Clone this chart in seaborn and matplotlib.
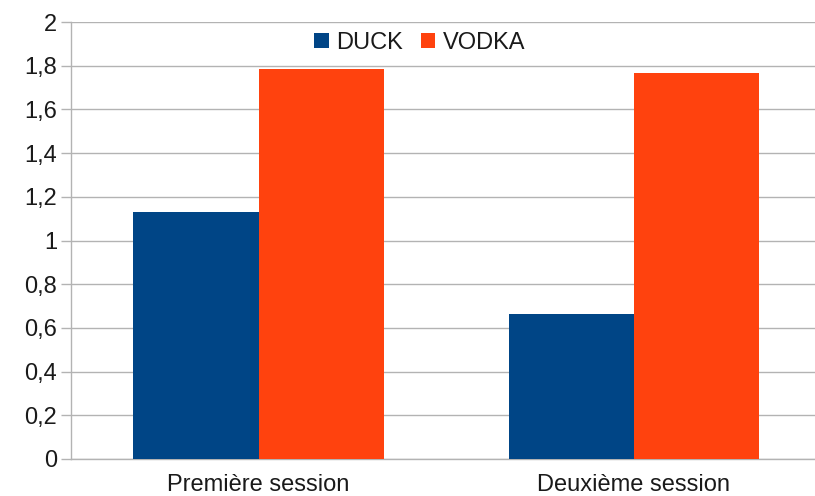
import matplotlib
matplotlib.use("Agg")
import matplotlib.pyplot as plt
from matplotlib.ticker import FuncFormatter, MultipleLocator
from matplotlib.patches import Patch
import pandas as pd
import seaborn as sns

# Data
sessions = ["Première session", "Deuxième session"]
series_names = ["DUCK", "VODKA"]
duck = [1.13, 0.665]
vodka = [1.785, 1.765]
colors = ["#004586", "#ff420e"]

df = pd.DataFrame({
    "session": sessions * 2,
    "serie": [series_names[0]] * 2 + [series_names[1]] * 2,
    "valeur": duck + vodka,
})

sns.set_theme(style="white")
plt.rcParams["font.family"] = ["Liberation Sans", "DejaVu Sans"]

fig = plt.figure(figsize=(8.15, 4.96), dpi=100)
ax = fig.add_axes([0.0871, 0.0746, 0.9129, 0.881])

sns.barplot(data=df, x="session", y="valeur", hue="serie", order=sessions,
            hue_order=series_names, palette=colors, width=0.667, gap=0,
            saturation=1, edgecolor="none", linewidth=0, ax=ax, legend=False,
            zorder=3)

ax.set_xlim(-0.5, 1.483)
ax.set_ylim(0, 2)
ax.yaxis.set_major_locator(MultipleLocator(0.2))
ax.yaxis.set_major_formatter(FuncFormatter(
    lambda v, _: ("%g" % round(v, 1)).replace(".", ",")))
ax.grid(axis="y", color="#b3b3b3", linewidth=1, zorder=0)
ax.set_axisbelow(True)
ax.set_xlabel("")
ax.set_ylabel("")

for side in ("top", "right"):
    ax.spines[side].set_visible(False)
for side in ("left", "bottom"):
    ax.spines[side].set_color("#b3b3b3")
    ax.spines[side].set_linewidth(1)

ax.tick_params(axis="y", left=True, length=7, width=1, color="#b3b3b3",
               labelsize=17, labelcolor="#1a1a1a", pad=3)
ax.tick_params(axis="x", bottom=False, labelsize=17, labelcolor="#1a1a1a",
               pad=5)

handles = [Patch(facecolor=c, edgecolor="none") for c in colors]
fig.legend(handles, series_names, loc="center", ncol=2,
           bbox_to_anchor=(0.515, 0.913), frameon=False, fontsize=17,
           handlelength=0.6, handleheight=0.6, handletextpad=0.3,
           columnspacing=0.8, labelcolor="#1a1a1a")

fig.savefig("out.png", dpi=100)
